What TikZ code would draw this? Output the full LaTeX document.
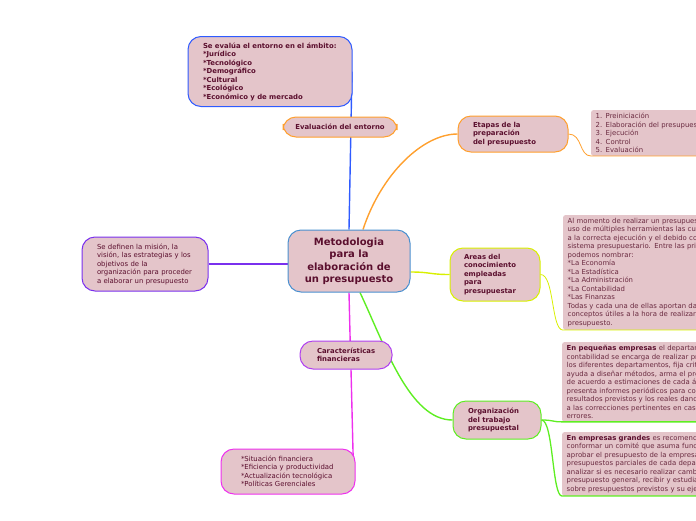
\documentclass[tikz,border=0pt]{standalone}
\usepackage{fontspec}
\setmainfont{DejaVu Sans}
\usetikzlibrary{backgrounds}
\definecolor{cfill}{HTML}{E4C5CA}
\definecolor{ctext}{HTML}{5B0F2E}
\definecolor{cdetail}{HTML}{6A2A40}
\definecolor{cblue}{HTML}{2F5BFF}
\definecolor{ccenter}{HTML}{4A90D0}
\definecolor{corange}{HTML}{FFA02E}
\definecolor{cyellow}{HTML}{D8F000}
\definecolor{cgreen}{HTML}{5EEE22}
\definecolor{cviolet}{HTML}{B040F0}
\definecolor{cmagenta}{HTML}{EE30EE}
\definecolor{cpurple}{HTML}{7A30EE}
\newcommand{\itm}{{*}}
\tikzset{
  every picture/.style={x=1pt, y=-1pt},
  topic/.style={draw=#1, fill=cfill, rounded corners=13pt, line width=1pt, text=ctext, align=center, inner sep=0pt, font=\bfseries\fontsize{10}{12.5}\selectfont},
  sub/.style={draw=#1, fill=cfill, rounded corners=13pt, line width=1pt, text=ctext, align=left, inner ysep=0pt, font=\fontsize{6.9}{8.5}\selectfont},
  subb/.style={sub=#1, font=\bfseries\fontsize{6.9}{8.5}\selectfont},
  detail/.style={fill=cfill, rounded corners=2pt, text=cdetail, align=left, anchor=north west, inner xsep=4.5pt, inner ysep=3pt, text width=180pt, font=\fontsize{6.9}{8.5}\selectfont},
  link/.style={draw=#1, line width=1.4pt},
  feed/.style={draw=#1, line width=0.8pt},
}

\begin{document}
\begin{tikzpicture}
  \useasboundingbox (0,0) rectangle (696,520);
  \clip (0,0) rectangle (696,520);
  % main topic
  \node[topic=ccenter, minimum width=122pt, minimum height=62pt] (centro) at (349,261) {Metodologia\\para la\\elaboración de\\un presupuesto};
  % left side
  \node[subb=cblue, text width=134pt, inner xsep=15pt, minimum height=70pt] (entorno) at (270,71.5) {Se evalúa el entorno en el ámbito:\\\itm Jurídico\\\itm Tecnológico\\\itm Demográfico\\\itm Cultural\\\itm Ecológico\\\itm Económico y de mercado};
  \node[subb=corange, align=center, minimum width=114pt, minimum height=20pt, inner xsep=0pt] (evaluacion) at (340,127) {Evaluación del entorno};
  \node[sub=cpurple, text width=96pt, inner xsep=15pt, minimum height=54pt] (mision) at (145,264) {Se definen la misión, la\\visión, las estrategias y los\\objetivos de la\\organización para proceder\\a elaborar un presupuesto};
  \node[subb=cviolet, text width=58pt, inner xsep=17pt, minimum height=28pt] (caract) at (346,355) {Características\\financieras};
  \node[sub=cmagenta, text width=94pt, inner xsep=20pt, minimum height=45pt] (factores) at (288,471.5) {\itm Situación financiera\\\itm Eficiencia y productividad\\\itm Actualización tecnológica\\\itm Políticas Gerenciales};
  % right side
  \node[subb=corange, text width=80pt, inner xsep=15pt, minimum height=36pt] (etapas) at (513,134) {Etapas de la\\preparación\\del presupuesto};
  \node[subb=cyellow, text width=62pt, inner xsep=14pt, minimum height=53pt] (areas) at (495,274.5) {Areas del\\conocimiento\\empleadas\\para\\presupuestar};
  \node[subb=cgreen, text width=58pt, inner xsep=15pt, minimum height=38pt] (organizacion) at (497,420) {Organización\\del trabajo\\presupuestal};
  % details
  \node[detail] (etapasdet) at (591,110) {1. Preiniciación\\2. Elaboración del presupuesto\\3. Ejecución\\4. Control\\5. Evaluación};
  \node[detail] (areasdet) at (563,215) {Al momento de realizar un presupuesto se hace\\uso de múltiples herramientas las cuales ayudan\\a la correcta ejecución y el debido control del\\sistema presupuestario. Entre las principales\\podemos nombrar:\\\itm La Economía\\\itm La Estadística\\\itm La Administración\\\itm La Contabilidad\\\itm Las Finanzas\\Todas y cada una de ellas aportan datos y\\conceptos útiles a la hora de realizar un\\presupuesto.};
  \node[detail] (pequenas) at (562,342) {\textbf{\color{ctext}En pequeñas empresas} el departamento de\\contabilidad se encarga de realizar presupuestos\\los diferentes departamentos, fija criterios,\\ayuda a diseñar métodos, arma el presupuesto\\de acuerdo a estimaciones de cada área,\\presenta informes periódicos para comparar\\resultados previstos y los reales dando lugar\\a las correcciones pertinentes en caso de\\errores.};
  \node[detail] (grandes) at (562,432) {\textbf{\color{ctext}En empresas grandes} es recomendable\\conformar un comité que asuma funciones como\\aprobar el presupuesto de la empresa, analizar\\presupuestos parciales de cada departamento,\\analizar si es necesario realizar cambios en el\\presupuesto general, recibir y estudiar informes\\sobre presupuestos previstos y su ejecución.};
  \begin{scope}[on background layer]
    \draw[link=cblue] (centro.north) -- ([xshift=3pt]centro.north |- entorno.east);
    \draw[link=corange] ([xshift=14pt]centro.north) .. controls +(18,-55) and +(-35,0) .. (etapas.west);
    \draw[link=cyellow] ([yshift=-11pt]centro.east) .. controls +(20,0) and +(-20,0) .. (areas.west);
    \draw[link=cgreen] ([xshift=11pt]centro.south) .. controls +(25,53) and +(-43,0) .. (organizacion.west);
    \draw[link=cmagenta] (centro.south) -- ([xshift=1.5pt]centro.south |- caract.center);
    \draw[link=cmagenta] ([xshift=5pt]caract.south) -- ([xshift=-2pt]factores.east);
    \draw[link=cpurple] ([yshift=-3pt]centro.west) -- (mision.east);
  \end{scope}
  \draw[feed=corange] (etapas.east) .. controls +(14,0) and +(-12,0) .. (etapasdet.south west) -- (etapasdet.south east);
  \draw[feed=cyellow] (areas.east) .. controls +(14,0) and +(-12,0) .. (areasdet.south west) -- (areasdet.south east);
  \draw[feed=cgreen, line width=1.3pt] (organizacion.east) .. controls +(12,0) and +(-10,0) .. (pequenas.south west) -- (pequenas.south east);
  \draw[feed=cgreen, line width=1.3pt] (organizacion.east) .. controls +(12,0) and +(-10,0) .. (grandes.south west) -- (grandes.south east);
\end{tikzpicture}
\end{document}
